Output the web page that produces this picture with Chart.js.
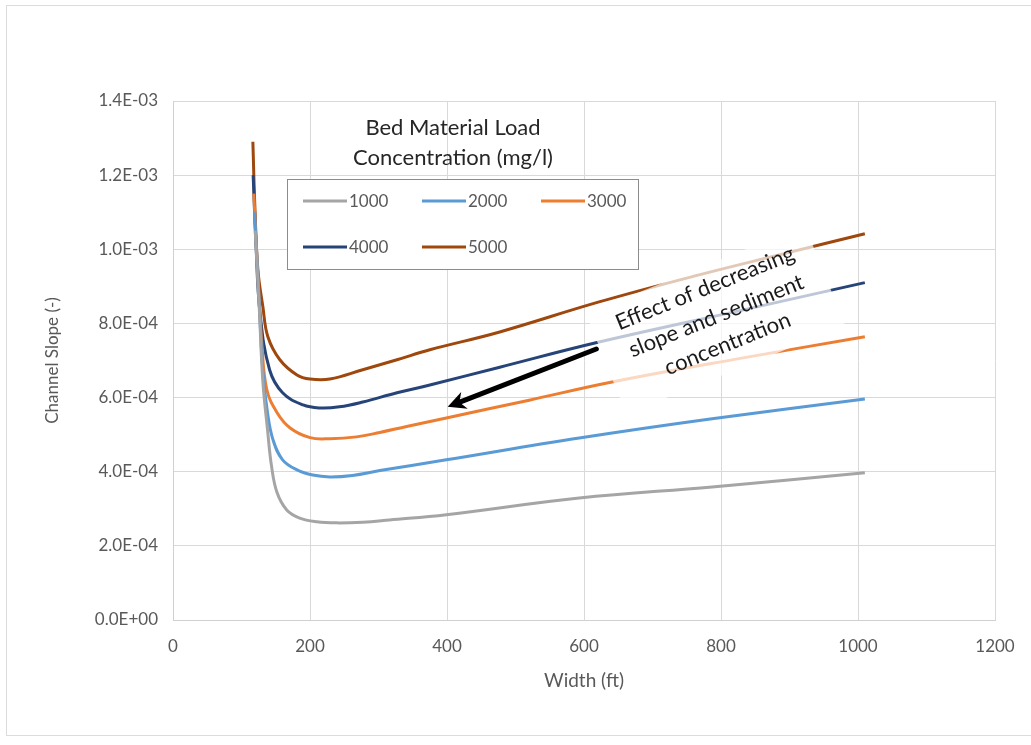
<!DOCTYPE html>
<html>
<head>
<meta charset="utf-8">
<script src="https://cdn.jsdelivr.net/npm/chart.js@4.4.1/dist/chart.umd.min.js"></script>
<style>
  html, body { margin: 0; padding: 0; background: #ffffff; }
  canvas { display: block; }
</style>
</head>
<body>
<canvas id="chart" width="1031" height="745"></canvas>
<script>
// Channel slope vs. channel width for several bed material load concentrations (mg/l)
const concentrations = ['1000', '2000', '3000', '4000', '5000'];

const width1000 = [120, 126, 131, 138, 144, 152, 166, 185, 210, 239, 277, 316, 399, 593, 787, 1010];
const slope1000 = [1.05e-3, 8.4e-4, 6.48e-4, 5.13e-4, 4.13e-4, 3.43e-4, 2.97e-4, 2.75e-4, 2.65e-4, 2.62e-4, 2.64e-4, 2.70e-4, 2.84e-4, 3.29e-4, 3.59e-4, 3.97e-4];

const width2000 = [119, 125, 131, 138, 146, 160, 181, 204, 229, 262, 302, 399, 593, 787, 1010];
const slope2000 = [1.10e-3, 8.9e-4, 6.75e-4, 5.59e-4, 4.86e-4, 4.32e-4, 4.05e-4, 3.91e-4, 3.86e-4, 3.90e-4, 4.03e-4, 4.32e-4, 4.91e-4, 5.43e-4, 5.96e-4];

const width3000 = [118, 123, 130, 137, 152, 171, 200, 229, 268, 302, 341, 399, 520, 641, 826, 1010];
const slope3000 = [1.15e-3, 9.6e-4, 7.37e-4, 6.21e-4, 5.59e-4, 5.18e-4, 4.92e-4, 4.89e-4, 4.94e-4, 5.06e-4, 5.22e-4, 5.45e-4, 5.93e-4, 6.42e-4, 7.05e-4, 7.64e-4];

const width4000 = [117, 121, 127, 141, 160, 190, 214, 243, 277, 327, 375, 477, 622, 841, 1010];
const slope4000 = [1.20e-3, 1.02e-3, 8.29e-4, 6.75e-4, 6.13e-4, 5.80e-4, 5.72e-4, 5.75e-4, 5.88e-4, 6.13e-4, 6.34e-4, 6.82e-4, 7.50e-4, 8.40e-4, 9.10e-4];

const width5000 = [116.6, 119.5, 123.9, 131.2, 138.5, 156, 181, 200, 229, 277, 327, 375, 477, 622, 768, 885, 1010];
const slope5000 = [1.29e-3, 1.115e-3, 9.45e-4, 8.45e-4, 7.64e-4, 7.02e-4, 6.61e-4, 6.50e-4, 6.50e-4, 6.75e-4, 7.02e-4, 7.29e-4, 7.77e-4, 8.58e-4, 9.31e-4, 9.85e-4, 1.042e-3];

const xTicks = [0, 200, 400, 600, 800, 1000, 1200];
const yTicks = [0, 2e-4, 4e-4, 6e-4, 8e-4, 1.0e-3, 1.2e-3, 1.4e-3];

const legendTitle = ['Bed Material Load', 'Concentration (mg/l)'];
const noteLines = ['Effect of decreasing', 'slope and sediment', 'concentration'];

const lineColors = ['#a5a5a5', '#5b9bd5', '#ed7d31', '#264478', '#9e480e'];
const FONT = 'Lato, "Open Sans", sans-serif';

function toPoints(xs, ys) {
  return xs.map((x, i) => ({ x: x, y: ys[i] }));
}

const seriesWidths = [width1000, width2000, width3000, width4000, width5000];
const seriesSlopes = [slope1000, slope2000, slope3000, slope4000, slope5000];

const datasets = concentrations.map((label, i) => ({
  label: label,
  data: toPoints(seriesWidths[i], seriesSlopes[i]),
  borderColor: lineColors[i],
  backgroundColor: lineColors[i],
  borderWidth: 3,
  pointRadius: 0,
  fill: false,
  tension: 0.4
}));

// Excel-style scientific labels, e.g. 1.4E-03
function sciLabel(v) {
  if (Math.abs(v) < 1e-12) return '0.0E+00';
  const e = Math.floor(Math.log10(Math.abs(v)) + 1e-9);
  const m = v / Math.pow(10, e);
  return m.toFixed(1) + 'E' + (e < 0 ? '-' : '+') + String(Math.abs(e)).padStart(2, '0');
}

// light frame around the whole figure
const framePlugin = {
  id: 'frame',
  beforeDraw(chart) {
    const ctx = chart.ctx;
    ctx.save();
    ctx.fillStyle = '#ffffff';
    ctx.fillRect(0, 0, chart.width, chart.height);
    ctx.strokeStyle = '#dcdcdc';
    ctx.lineWidth = 1;
    ctx.strokeRect(6.5, 5.5, chart.width + 10, 730);
    ctx.restore();
  }
};

// boxed legend with a two-line title inside the plot area
const boxLegendPlugin = {
  id: 'boxLegend',
  afterDatasetsDraw(chart) {
    const ctx = chart.ctx;
    const a = chart.chartArea;
    ctx.save();

    // title
    ctx.fillStyle = '#262626';
    ctx.font = '22px ' + FONT;
    ctx.textAlign = 'center';
    ctx.textBaseline = 'middle';
    const tx = a.left + 280;
    ctx.fillText(legendTitle[0], tx, a.top + 27);
    ctx.fillText(legendTitle[1], tx, a.top + 57);

    // box
    const bx = a.left + 114, by = a.top + 78, bw = 351, bh = 90;
    ctx.fillStyle = '#ffffff';
    ctx.fillRect(bx, by, bw, bh);
    ctx.strokeStyle = '#8c8c8c';
    ctx.lineWidth = 1;
    ctx.strokeRect(bx + 0.5, by + 0.5, bw, bh);

    // entries, three per row
    ctx.font = '17px ' + FONT;
    ctx.textAlign = 'left';
    ctx.fillStyle = '#595959';
    chart.data.datasets.forEach((ds, i) => {
      const col = i % 3, row = Math.floor(i / 3);
      const x0 = bx + 16 + col * 119;
      const y0 = by + 22 + row * 46;
      ctx.strokeStyle = ds.borderColor;
      ctx.lineWidth = 3;
      ctx.beginPath();
      ctx.moveTo(x0, y0);
      ctx.lineTo(x0 + 44, y0);
      ctx.stroke();
      ctx.fillText(ds.label, x0 + 46, y0 + 1);
    });
    ctx.restore();
  }
};

// rotated note with translucent backing and an arrow pointing toward lower curves
const notePlugin = {
  id: 'note',
  afterDatasetsDraw(chart) {
    const ctx = chart.ctx;
    const xs = chart.scales.x, ys = chart.scales.y;
    const cx = xs.getPixelForValue(797), cy = ys.getPixelForValue(8.02e-4);
    const ang = -22 * Math.PI / 180;

    ctx.save();
    ctx.translate(cx, cy);
    ctx.rotate(ang);
    ctx.fillStyle = 'rgba(255,255,255,0.7)';
    ctx.fillRect(-120, -58, 236, 108);
    ctx.fillStyle = '#1a1a1a';
    ctx.font = '22px ' + FONT;
    ctx.textAlign = 'center';
    ctx.textBaseline = 'alphabetic';
    noteLines.forEach((t, i) => ctx.fillText(t, 0, (i - 1) * 30));
    ctx.restore();

    // arrow
    const x1 = xs.getPixelForValue(618), y1 = ys.getPixelForValue(7.31e-4);
    const x2 = xs.getPixelForValue(401), y2 = ys.getPixelForValue(5.75e-4);
    const t = Math.atan2(y2 - y1, x2 - x1);
    const head = 18, hw = 9;
    ctx.save();
    ctx.strokeStyle = '#000000';
    ctx.fillStyle = '#000000';
    ctx.lineWidth = 5;
    ctx.lineCap = 'round';
    ctx.beginPath();
    ctx.moveTo(x1, y1);
    ctx.lineTo(x2 - head * 0.8 * Math.cos(t), y2 - head * 0.8 * Math.sin(t));
    ctx.stroke();
    ctx.beginPath();
    ctx.moveTo(x2, y2);
    ctx.lineTo(x2 - head * Math.cos(t) + hw * Math.sin(t), y2 - head * Math.sin(t) - hw * Math.cos(t));
    ctx.lineTo(x2 - head * 0.7 * Math.cos(t), y2 - head * 0.7 * Math.sin(t));
    ctx.lineTo(x2 - head * Math.cos(t) - hw * Math.sin(t), y2 - head * Math.sin(t) + hw * Math.cos(t));
    ctx.closePath();
    ctx.fill();
    ctx.restore();
  }
};

new Chart(document.getElementById('chart'), {
  type: 'line',
  data: { datasets: datasets },
  plugins: [framePlugin, boxLegendPlugin, notePlugin],
  options: {
    responsive: false,
    animation: false,
    devicePixelRatio: 1,
    layout: { padding: { left: 0, top: 101, right: 36, bottom: 0 } },
    plugins: { legend: { display: false }, tooltip: { enabled: false } },
    scales: {
      x: {
        type: 'linear',
        min: 0,
        max: 1200,
        afterBuildTicks(scale) { scale.ticks = xTicks.map(v => ({ value: v })); },
        afterFit(scale) { scale.height = 125; },
        grid: { color: '#d9d9d9', lineWidth: 1, drawTicks: false },
        border: { color: '#d0d0d0' },
        ticks: { color: '#595959', font: { family: FONT, size: 17 }, padding: 16, maxRotation: 0, callback: v => String(v) },
        title: { display: true, text: 'Width (ft)', color: '#595959', font: { family: FONT, size: 19 }, padding: { top: 0, bottom: 53 } }
      },
      y: {
        type: 'linear',
        min: 0,
        max: 1.4e-3,
        afterBuildTicks(scale) { scale.ticks = yTicks.map(v => ({ value: v })); },
        afterFit(scale) { scale.width = 173; },
        grid: { color: '#d9d9d9', lineWidth: 1, drawTicks: false },
        border: { color: '#d0d0d0' },
        ticks: { color: '#595959', font: { family: FONT, size: 17 }, padding: 15, callback: v => sciLabel(v) },
        title: { display: true, text: 'Channel Slope (-)', color: '#595959', font: { family: FONT, size: 17 }, padding: { top: 42, bottom: 0 } }
      }
    }
  }
});
</script>
</body>
</html>
